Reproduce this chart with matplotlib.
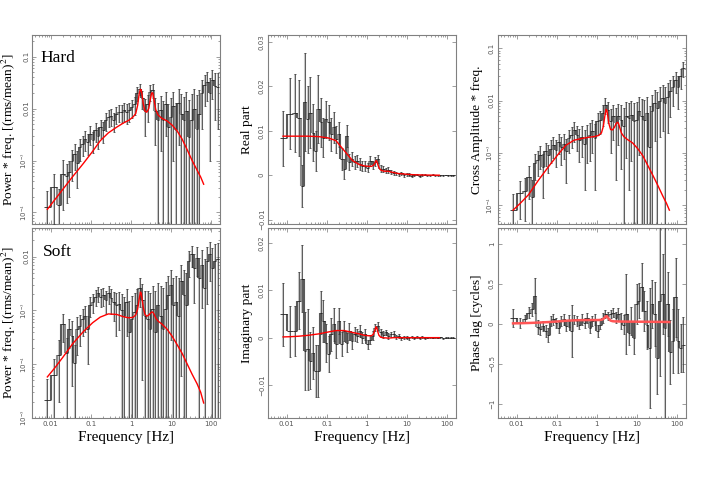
import numpy as np
import matplotlib.pyplot as plt
from matplotlib.ticker import NullFormatter

plt.rcParams['mathtext.fontset'] = 'stix'
plt.rcParams['font.family'] = ['DejaVu Sans']

# frequency bins (Hz)
freq = [0.0082, 0.0123, 0.0164, 0.0205, 0.0246,
        0.029, 0.034, 0.039, 0.046, 0.053, 0.062, 0.072, 0.083, 0.097, 0.112,
        0.13, 0.151, 0.175, 0.203, 0.236, 0.274, 0.318, 0.369, 0.428, 0.497,
        0.577, 0.67, 0.777, 0.902, 1.05, 1.22, 1.41, 1.64, 1.9, 2.2,
        2.56, 2.97, 3.45, 4.0, 4.64, 5.39, 6.25, 7.26, 8.42, 9.78,
        11.3, 13.2, 15.3, 17.7, 20.6, 23.9, 27.7, 32.2, 37.3, 43.3,
        50.3, 58.4, 67.7, 78.6, 91.2, 106, 123, 143]

model_freq = [0.0082, 0.0125, 0.02, 0.035, 0.064, 0.11, 0.17, 0.27, 0.44, 0.65,
              0.86, 1.1, 1.3, 1.45, 1.58, 1.7, 1.78, 1.88, 2.0, 2.2,
              2.45, 2.75, 3.0, 3.25, 3.45, 3.7, 4.1, 4.7, 5.8, 7.8,
              10.5, 14, 18.5, 25, 33, 44, 54, 64]

hard = [1.3e-4, 3.1e-4, 1.4e-4, 5.6e-4, 5.0e-4, 6.0e-4, 1.0e-3, 1.35e-3, 9e-4, 1.8e-3,
        2.1e-3, 2.6e-3, 2.3e-3, 3.3e-3, 2.5e-3, 3.8e-3, 3.0e-3, 4.4e-3, 3.8e-3, 5.9e-3,
        6.8e-3, 7.3e-3, 5.9e-3, 7.9e-3, 8.5e-3, 8.5e-3, 9.2e-3, 8.5e-3, 9.2e-3, 1.06e-2,
        1.2e-2, 2.0e-2, 2.4e-2, 1.6e-2, 9e-3, 1.2e-2, 2.1e-2, 2.3e-2, 9e-3, 6e-3,
        9.5e-3, 6e-3, 1.2e-2, 4.5e-3, 7e-3, 1.1e-2, 3.8e-3, 1.3e-2, 8e-3, 6e-3,
        9e-3, 2.8e-3, 6e-3, 1.0e-2, 4.0e-3, 8e-3, 2.0e-2, 2.8e-2, 3.2e-2, 2.0e-2,
        3.5e-2, 2.7e-2, 2.6e-2]
hard_err = [1.3e-4, 2.5e-4, 1.4e-4, 4.5e-4, 3.5e-4, 4e-4, 6e-4, 7e-4, 6e-4, 8e-4,
            9e-4, 1.1e-3, 1e-3, 1.3e-3, 1.1e-3, 1.5e-3, 1.3e-3, 1.7e-3, 1.6e-3, 2.2e-3,
            2.4e-3, 2.6e-3, 2.4e-3, 2.8e-3, 3e-3, 3.2e-3, 3.4e-3, 3.5e-3, 3.8e-3, 4e-3,
            4.5e-3, 6e-3, 6e-3, 6e-3, 6e-3, 6.5e-3, 7e-3, 7e-3, 7e-3, 7e-3,
            8e-3, 8e-3, 9e-3, 8e-3, 9e-3, 1e-2, 9e-3, 1.1e-2, 1.1e-2, 1.1e-2,
            1.2e-2, 1.2e-2, 1.3e-2, 1.4e-2, 1.4e-2, 1.5e-2, 1.6e-2, 1.7e-2, 1.8e-2, 1.9e-2,
            2.0e-2, 2.1e-2, 2.2e-2]
hard_model = [1.15e-4, 1.75e-4, 2.8e-4, 4.9e-4, 8.7e-4, 1.5e-3, 2.4e-3, 3.4e-3, 4.4e-3, 5.3e-3,
              5.9e-3, 6.8e-3, 8e-3, 1.15e-2, 1.9e-2, 2.35e-2, 2.3e-2, 1.8e-2, 1.25e-2, 9e-3,
              8.5e-3, 1.0e-2, 1.5e-2, 2.0e-2, 2.0e-2, 1.5e-2, 9.5e-3, 7.5e-3, 6.5e-3, 5.8e-3,
              4.8e-3, 3.7e-3, 2.6e-3, 1.6e-3, 1.0e-3, 6.5e-4, 4.8e-4, 3.5e-4]

soft = [2.2e-5, 6.3e-5, 1.5e-4, 5.6e-4, 1.6e-4, 4.5e-4, 3.4e-4, 1.05e-4, 4.5e-4, 5.2e-4,
        6.9e-4, 8.0e-4, 4.5e-4, 1.24e-3, 1.44e-3, 1.8e-3, 2.07e-3, 1.8e-3, 1.93e-3, 1.55e-3,
        2.07e-3, 1.67e-3, 1.44e-3, 1.24e-3, 1.34e-3, 1.0e-3, 8.0e-4, 1.44e-3, 3.9e-4, 6.9e-4,
        9.3e-4, 1.24e-3, 2.58e-3, 1.55e-3, 8.0e-4, 6.9e-4, 4.5e-4, 1.08e-3, 4.0e-4, 1.24e-3,
        8.0e-4, 4.5e-4, 1.08e-3, 1.93e-3, 2.98e-3, 1.24e-3, 1.44e-3, 8.0e-4, 3.46e-3, 1.93e-3,
        1.24e-3, 8.3e-3, 1.1e-2, 6.2e-3, 9.6e-3, 4.0e-3, 7.1e-3, 2.6e-3, 8.3e-3, 1.1e-2,
        6.2e-3, 8.3e-3, 9.0e-3]
soft_err = [3e-5, 6e-5, 1.3e-4, 3e-4, 1.5e-4, 2.5e-4, 3e-4, 1.2e-4, 3e-4, 3e-4,
            3.5e-4, 4e-4, 3.5e-4, 5e-4, 5.5e-4, 6e-4, 6.5e-4, 6.5e-4, 7e-4, 7e-4,
            7.5e-4, 8e-4, 8e-4, 9e-4, 9e-4, 1e-3, 1e-3, 1.1e-3, 1.1e-3, 1.2e-3,
            1.2e-3, 1.3e-3, 1.4e-3, 1.5e-3, 1.5e-3, 1.6e-3, 1.7e-3, 1.8e-3, 1.9e-3, 2e-3,
            2.1e-3, 2.2e-3, 2.3e-3, 2.5e-3, 2.7e-3, 2.8e-3, 3e-3, 3.2e-3, 3.4e-3, 3.6e-3,
            3.8e-3, 4.2e-3, 4.5e-3, 4.8e-3, 5.2e-3, 5.5e-3, 6e-3, 6.5e-3, 7e-3, 7.5e-3,
            8e-3, 8.5e-3, 9e-3]
soft_model = [5.8e-5, 8.5e-5, 1.35e-4, 2.4e-4, 4.0e-4, 5.9e-4, 7.5e-4, 8.6e-4, 8.4e-4, 7.6e-4,
              7.3e-4, 7.4e-4, 8.2e-4, 1.05e-3, 1.6e-3, 2.2e-3, 2.1e-3, 1.6e-3, 1.15e-3, 8.5e-4,
              7.8e-4, 8.2e-4, 8.8e-4, 9.3e-4, 9.3e-4, 8.6e-4, 7.2e-4, 6.3e-4, 5.6e-4, 4.5e-4,
              3.3e-4, 2.3e-4, 1.6e-4, 1.0e-4, 6.5e-5, 4.3e-5, 3e-5, 1.9e-5]

real = [0.0083, 0.0139, 0.014, 0.0129, -0.0024, 0.0165, 0.0126, 0.0141, 0.0096, 0.0055,
        0.0149, 0.0119, 0.0085, 0.0126, 0.0119, 0.0092, 0.0108, 0.0081, 0.0092, 0.0036,
        0.0014, 0.0089, 0.0029, 0.0036, 0.0029, 0.0032, 0.0025, 0.0021, 0.0021, 0.0017,
        0.0032, 0.0023, 0.003, 0.0036, 0.0015, 0.0014, 0.001, 0.0012, 0.00075, 0.00045,
        0.0004, 0.0002, 0.0004, 0.0, 0.0002, 0.0001, -0.0001, 0.0, 0.00015, -0.0001,
        0.0, 0.00015, 0.0, 0.0, 0.0001, 0.0, 0.0, -0.00005, 0.0, 0.00005,
        0.0, 0.0, 0.0]
real_err = [0.0062, 0.008, 0.0088, 0.0085, 0.0048, 0.011, 0.0075, 0.008, 0.0065, 0.0045,
            0.0076, 0.0055, 0.0045, 0.0042, 0.004, 0.0038, 0.0035, 0.003, 0.0028, 0.0025,
            0.0022, 0.0025, 0.0018, 0.0016, 0.0015, 0.0014, 0.0013, 0.0012, 0.0011, 0.001,
            0.0011, 0.001, 0.001, 0.0009, 0.0008, 0.0007, 0.0006, 0.0006, 0.0005, 0.0005,
            0.0004, 0.0004, 0.0003, 0.0003, 0.0003, 0.0003, 0.0002, 0.0002, 0.0002, 0.0002,
            0.0002, 0.0002, 0.0001, 0.0001, 0.0001, 0.0001, 0.0001, 0.0001, 0.0001, 0.0001,
            0.0001, 0.0001, 0.0001]
real_model = [0.0088, 0.0088, 0.0088, 0.0088, 0.0087, 0.0084, 0.0078, 0.0056, 0.0033, 0.0024,
              0.0021, 0.0020, 0.0020, 0.0022, 0.0027, 0.0033, 0.0031, 0.0024, 0.0017, 0.0012,
              0.0010, 0.0009, 0.0009, 0.0009, 0.0009, 0.0008, 0.0007, 0.0006, 0.0004, 0.0003,
              0.0002, 0.00012, 0.00008, 0.00005, 0.00003, 0.00002, 0.00001, 0.0]

imag = [0.0049, 0.0013, 0.0014, 0.0078, 0.0125, -0.0028, -0.0025, -0.0049, -0.0032, -0.007,
        -0.007, 0.0053, 0.0035, -0.0011, -0.0035, 0.0007, 0.0028, -0.0014, 0.0035, -0.0014,
        0.0014, -0.0011, 0.0014, -0.0007, 0.0008, 0.0004, 0.0014, 0.0, 0.0007, -0.0014,
        -0.0004, 0.0004, 0.0021, 0.0025, 0.0011, 0.0006, 0.0011, 0.0004, 0.0007, 0.0008,
        0.00015, 0.0004, -0.00015, 0.0001, 0.0, -0.0001, 0.0001, 0.0, 0.00005, -0.0001,
        0.0001, 0.0, 0.0, 0.0001, 0.0, 0.00005, 0.0, 0.0001, -0.0001, 0.0,
        0.0, 0.0, 0.0]
imag_err = [0.0067, 0.0053, 0.0052, 0.006, 0.007, 0.0083, 0.0085, 0.006, 0.0055, 0.0055,
            0.0055, 0.0045, 0.0045, 0.004, 0.0038, 0.0035, 0.0035, 0.003, 0.0028, 0.0025,
            0.0022, 0.002, 0.0018, 0.0016, 0.0015, 0.0014, 0.0013, 0.0012, 0.0011, 0.001,
            0.001, 0.0009, 0.0008, 0.0008, 0.0007, 0.0007, 0.0006, 0.0006, 0.0005, 0.0005,
            0.0004, 0.0004, 0.0003, 0.0003, 0.0003, 0.0003, 0.0002, 0.0002, 0.0002, 0.0002,
            0.0002, 0.0002, 0.0001, 0.0001, 0.0001, 0.0001, 0.0001, 0.0001, 0.0001, 0.0001,
            0.0001, 0.0001, 0.0001]
imag_model = [0.00015, 0.0002, 0.0003, 0.0005, 0.0008, 0.0012, 0.0015, 0.0015, 0.0011, 0.0008,
              0.0005, 0.0004, 0.0004, 0.0007, 0.0015, 0.0023, 0.002, 0.0012, 0.0005, 0.0001,
              0.0, -0.00005, -0.00005, -0.0001, -0.0001, -0.00008, -0.00005, 0.0, 0.0, 0.0,
              0.0, 0.0, 0.0, 0.0, 0.0, 0.0, 0.0, 0.0]

cross = [8.1e-5, 1.74e-4, 1.9e-4, 3.55e-4, 1.45e-4, 6.3e-4, 7.3e-4, 9.2e-4, 5.4e-4, 1.07e-3,
         9.2e-4, 1.2e-3, 1.4e-3, 1.15e-3, 1.64e-3, 1.3e-3, 1.5e-3, 1.07e-3, 1.9e-3, 2.2e-3,
         2.75e-3, 2.2e-3, 1.77e-3, 2.05e-3, 1.5e-3, 2.05e-3, 2.2e-3, 2.6e-3, 1.9e-3, 4.0e-3,
         4.3e-3, 5.7e-3, 8.3e-3, 6.6e-3, 4.0e-3, 5.0e-3, 3.7e-3, 5.0e-3, 4.3e-3, 3.2e-3,
         5.0e-3, 4.6e-3, 5.3e-3, 4.0e-3, 4.3e-3, 6.2e-3, 5.0e-3, 4.3e-3, 5.7e-3, 1.3e-3,
         6.2e-3, 8.9e-3, 7.1e-3, 1.0e-2, 1.11e-2, 8.9e-3, 1.19e-2, 1.49e-2, 1.85e-2, 2.48e-2,
         1.85e-2, 2.88e-2, 4.15e-2]
cross_err = [8e-5, 1.2e-4, 1.4e-4, 2.2e-4, 1.6e-4, 3.2e-4, 3.6e-4, 4.2e-4, 4e-4, 5e-4,
             5e-4, 5.5e-4, 6e-4, 6e-4, 7e-4, 7e-4, 7.5e-4, 8e-4, 9e-4, 9.5e-4,
             1.1e-3, 1.1e-3, 1.1e-3, 1.2e-3, 1.3e-3, 1.4e-3, 1.5e-3, 1.6e-3, 1.7e-3, 1.8e-3,
             2e-3, 2.4e-3, 2.8e-3, 2.8e-3, 3e-3, 3.2e-3, 3.4e-3, 3.6e-3, 3.8e-3, 4e-3,
             4.2e-3, 4.4e-3, 4.6e-3, 4.8e-3, 5e-3, 5.3e-3, 5.6e-3, 5.9e-3, 6.2e-3, 6.5e-3,
             6.8e-3, 7.2e-3, 7.6e-3, 8e-3, 8.5e-3, 9e-3, 9.5e-3, 1e-2, 1.05e-2, 1.1e-2,
             1.15e-2, 1.2e-2, 1.3e-2]
cross_model = [8.1e-5, 1.1e-4, 1.6e-4, 3.0e-4, 5.6e-4, 9.5e-4, 1.4e-3, 1.75e-3, 1.9e-3, 2.0e-3,
               2.05e-3, 2.15e-3, 2.4e-3, 3.2e-3, 5.0e-3, 6.8e-3, 6.5e-3, 5.0e-3, 3.6e-3, 2.8e-3,
               2.75e-3, 3.1e-3, 3.6e-3, 3.85e-3, 3.7e-3, 3.1e-3, 2.4e-3, 2.05e-3, 1.8e-3, 1.55e-3,
               1.2e-3, 8.8e-4, 5.8e-4, 3.7e-4, 2.4e-4, 1.5e-4, 1.1e-4, 8.1e-5]

phase = [0.076, 0.01, 0.055, 0.14, 0.18, 0.35, -0.04, -0.06, -0.03, -0.09,
         -0.14, 0.034, 0.055, 0.013, -0.05, 0.034, 0.055, -0.03, 0.034, -0.09,
         0.055, 0.034, -0.01, 0.055, 0.013, 0.076, -0.05, 0.034, 0.055, -0.09,
         -0.01, 0.076, 0.12, 0.1, 0.12, 0.14, 0.076, 0.12, 0.034, -0.01,
         0.12, -0.11, 0.034, -0.18, 0.25, 0.29, 0.46, 0.16, -0.01, -0.3,
         0.25, 0.12, -0.43, 0.29, 0.37, -0.05, 0.25, -0.35, -0.22, 0.33,
         -0.22, -0.3, -0.26]
phase_err = [0.11, 0.06, 0.05, 0.07, 0.08, 0.22, 0.09, 0.08, 0.06, 0.08,
             0.09, 0.06, 0.07, 0.06, 0.07, 0.06, 0.07, 0.06, 0.07, 0.33,
             0.06, 0.06, 0.06, 0.07, 0.06, 0.06, 0.07, 0.06, 0.07, 0.07,
             0.06, 0.06, 0.05, 0.05, 0.05, 0.06, 0.07, 0.08, 0.1, 0.12,
             0.5, 0.15, 0.18, 0.2, 0.25, 0.22, 0.3, 0.25, 0.3, 0.75,
             0.3, 0.4, 0.45, 0.95, 0.5, 2.0, 0.4, 0.4, 0.4, 0.5,
             0.4, 0.3, 0.35]
phase_model = [0.005, 0.007, 0.01, 0.015, 0.022, 0.03, 0.038, 0.043, 0.046, 0.047,
               0.047, 0.047, 0.05, 0.06, 0.08, 0.095, 0.095, 0.08, 0.06, 0.04,
               0.033, 0.03, 0.03, 0.03, 0.029, 0.029, 0.028, 0.028, 0.027, 0.027,
               0.026, 0.026, 0.025, 0.025, 0.024, 0.024, 0.023, 0.022]

xticks = [0.01, 0.1, 1, 10, 100]
xticklabels = ['0.01', '0.1', '1', '10', '100']
serif = 'Liberation Serif'


def bin_edges(f):
    f = np.asarray(f)
    mid = np.sqrt(f[1:] * f[:-1])
    lo = np.concatenate([[f[0] ** 2 / mid[0]], mid])
    hi = np.concatenate([mid, [f[-1] ** 2 / mid[-1]]])
    return lo, hi


def panel(ax, vals, errs, model, log, ylim, yticks, yticklabels, ylabel,
          bottom_row, label_x=-0.108, model_lw=1.0, model_color='red'):
    f = np.asarray(freq)
    v = np.asarray(vals)
    e = np.asarray(errs)
    lo, hi = bin_edges(f)
    if log:
        ax.set_yscale('log', nonpositive='clip')
    ax.set_xscale('log')
    # thick light error band, dark step connectors, thin error bars, steps
    ax.vlines(f, v - e, v + e, color='#c6c6c6', lw=1.5, zorder=1)
    shades = ['#5a5a5a' if i % 2 == 0 else '#8c8c8c' for i in range(len(v) - 1)]
    ax.vlines(hi[:-1], np.minimum(v[:-1], v[1:]), np.maximum(v[:-1], v[1:]),
              colors=shades, lw=1.5, zorder=2)
    ax.errorbar(f, v, yerr=e, fmt='none', ecolor='#333333', elinewidth=0.5,
                capsize=1.0, capthick=0.5, zorder=3)
    ax.hlines(v, lo, hi, color='#222222', lw=0.6, zorder=3)
    ax.plot(model_freq, model, color=model_color, lw=model_lw, zorder=4)

    ax.set_xlim(0.0034, 168)
    ax.set_ylim(*ylim)
    ax.set_xticks(xticks)
    ax.xaxis.set_minor_formatter(NullFormatter())
    ax.set_yticks(yticks)
    ax.set_yticklabels(yticklabels)
    ax.yaxis.set_minor_formatter(NullFormatter())
    if bottom_row:
        ax.set_xticklabels(xticklabels)
        ax.set_xlabel('Frequency [Hz]', family=serif, fontsize=11, labelpad=3)
    else:
        ax.set_xticklabels([])
    ax.tick_params(which='both', direction='in', top=True, right=True,
                   color='#777777', width=0.5, labelsize=5, labelcolor='#555555', pad=2)
    ax.tick_params(which='major', length=3)
    ax.tick_params(which='minor', length=1.5)
    ax.tick_params(axis='y', labelrotation=90)
    for lab in ax.get_yticklabels():
        lab.set_va('center')
    for s in ax.spines.values():
        s.set_color('#808080')
        s.set_linewidth(0.8)
    ax.set_ylabel(ylabel, family=serif, fontsize=9.6, va='center')
    ax.yaxis.set_label_coords(label_x, 0.5)


fig = plt.figure(figsize=(7.19, 4.80), dpi=100)
lefts = [32 / 719, 267.7 / 719, 497.7 / 719]
w = 188.5 / 719
top_box = (0.5333, 0.39375)
bot_box = (0.1292, 0.3958)

ax_hard = fig.add_axes([lefts[0], top_box[0], w, top_box[1]])
ax_soft = fig.add_axes([lefts[0], bot_box[0], w, bot_box[1]])
ax_real = fig.add_axes([lefts[1], top_box[0], w, top_box[1]])
ax_imag = fig.add_axes([lefts[1], bot_box[0], w, bot_box[1]])
ax_cross = fig.add_axes([lefts[2], top_box[0], w, top_box[1]])
ax_phase = fig.add_axes([lefts[2], bot_box[0], w, bot_box[1]])

panel(ax_hard, hard, hard_err, hard_model, True, (6e-5, 0.26),
      [1e-4, 1e-3, 1e-2, 1e-1], ['10$^{-4}$', '10$^{-3}$', '0.01', '0.1'],
      'Power * freq. [(rms/mean)$^2$]', False, label_x=-0.12)
panel(ax_soft, soft, soft_err, soft_model, True, (1e-5, 0.034),
      [1e-5, 1e-4, 1e-3, 1e-2], ['10$^{-5}$', '10$^{-4}$', '10$^{-3}$', '0.01'],
      'Power * freq. [(rms/mean)$^2$]', True, label_x=-0.12)
panel(ax_real, real, real_err, real_model, False, (-0.011, 0.0316),
      [-0.01, 0, 0.01, 0.02, 0.03], ['\u22120.01', '0', '0.01', '0.02', '0.03'],
      'Real part', False)
panel(ax_imag, imag, imag_err, imag_model, False, (-0.017, 0.0232),
      [-0.01, 0, 0.01, 0.02], ['\u22120.01', '0', '0.01', '0.02'],
      'Imaginary part', True)
panel(ax_cross, cross, cross_err, cross_model, True, (4.4e-5, 0.178),
      [1e-4, 1e-3, 1e-2, 1e-1], ['10$^{-4}$', '10$^{-3}$', '0.01', '0.1'],
      'Cross Amplitude * freq.', False)
panel(ax_phase, phase, phase_err, phase_model, False, (-1.18, 1.2),
      [-1, -0.5, 0, 0.5, 1], ['\u22121', '\u22120.5', '0', '0.5', '1'],
      'Phase lag [cycles]', True, model_lw=1.8, model_color='#ff5555')

ax_hard.text(0.045, 0.855, 'Hard', transform=ax_hard.transAxes, family=serif, fontsize=12.5)
ax_soft.text(0.058, 0.855, 'Soft', transform=ax_soft.transAxes, family=serif, fontsize=12.5)

fig.savefig('out.png', dpi=100)
